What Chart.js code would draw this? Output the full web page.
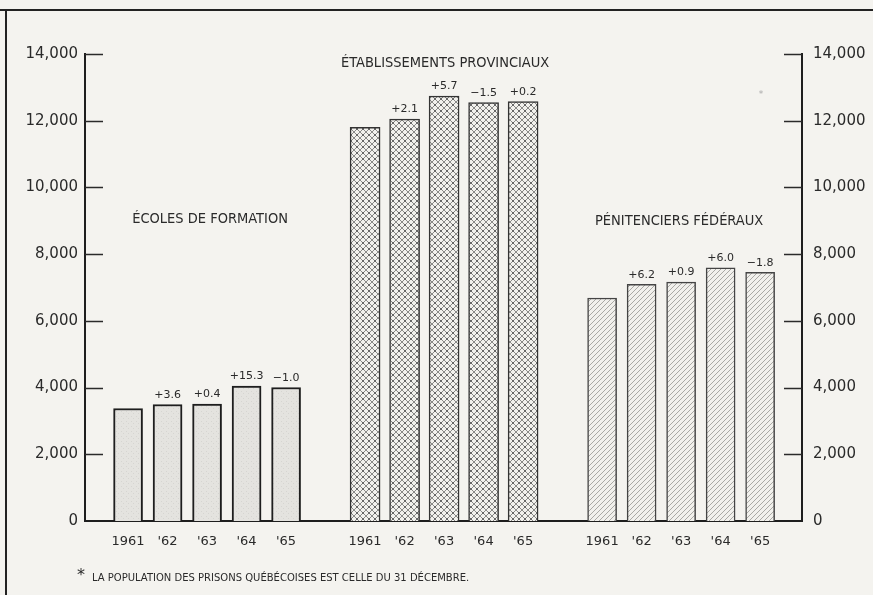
<!DOCTYPE html>
<html>
<head>
<meta charset="utf-8">
<script src="https://cdn.jsdelivr.net/npm/chart.js@4.4.1/dist/chart.umd.min.js"></script>
<style>
  html, body { margin: 0; padding: 0; background: #f4f3ef; }
  #wrap { width: 873px; height: 595px; position: relative; }
</style>
</head>
<body>
<div id="wrap"><canvas id="myChart" width="873" height="595"></canvas></div>
<script>
// data
var years = ['1961', "'62", "'63", "'64", "'65"];
var groups = ['ÉCOLES DE FORMATION', 'ÉTABLISSEMENTS PROVINCIAUX', 'PÉNITENCIERS FÉDÉRAUX'];
var ecoles = [3372, 3493, 3507, 4043, 4003];
var provinciaux = [11802, 12050, 12737, 12546, 12571];
var federaux = [6684, 7098, 7162, 7592, 7455];
var pctEcoles = ['', '+3.6', '+0.4', '+15.3', '−1.0'];
var pctProvinciaux = ['', '+2.1', '+5.7', '−1.5', '+0.2'];
var pctFederaux = ['', '+6.2', '+0.9', '+6.0', '−1.8'];
var yTicks = [0, 2000, 4000, 6000, 8000, 10000, 12000, 14000];
var footnote = 'LA POPULATION DES PRISONS QUÉBÉCOISES EST CELLE DU 31 DÉCEMBRE.';

var ink = '#2a2a2a';
var font = "'DejaVu Sans', sans-serif";

function makePattern(kind) {
    var c = document.createElement('canvas');
    var s = kind === 'cross' ? 6 : 5;
    c.width = s; c.height = s;
    var g = c.getContext('2d');
    if (kind === 'dots') {
        g.fillStyle = '#e4e3df';
        g.fillRect(0, 0, s, s);
        g.fillStyle = '#d6d5d1';
        g.fillRect(1, 1, 1, 1);
        g.fillRect(3, 3, 1, 1);
    } else if (kind === 'cross') {
        g.fillStyle = '#f2f1ed';
        g.fillRect(0, 0, s, s);
        g.strokeStyle = '#8a8a88';
        g.lineWidth = 1;
        g.beginPath();
        g.moveTo(0, 0); g.lineTo(s, s);
        g.moveTo(s, 0); g.lineTo(0, s);
        g.stroke();
        g.fillStyle = '#666';
        g.fillRect(2, 2, 2, 2);
    } else {
        g.fillStyle = '#f1f0ec';
        g.fillRect(0, 0, s, s);
        g.strokeStyle = '#a9a8a4';
        g.lineWidth = 1;
        g.beginPath();
        g.moveTo(0, s); g.lineTo(s, 0);
        g.moveTo(-1, 1); g.lineTo(1, -1);
        g.moveTo(s - 1, s + 1); g.lineTo(s + 1, s - 1);
        g.stroke();
    }
    var ctx2 = document.getElementById('myChart').getContext('2d');
    return ctx2.createPattern(c, 'repeat');
}

function toPoints(values, group) {
    return values.map(function (v, i) { return { x: group * 6 + i, y: v }; });
}

var xPositions = [];
var xLabels = {};
for (var gi = 0; gi < groups.length; gi++) {
    for (var yi = 0; yi < years.length; yi++) {
        xPositions.push(gi * 6 + yi);
        xLabels[gi * 6 + yi] = years[yi];
    }
}

var pctLists = [pctEcoles, pctProvinciaux, pctFederaux];

var decor = {
    id: 'decor',
    beforeDraw: function (chart) {
        var c = chart.ctx;
        c.save();
        c.fillStyle = '#f4f3ef';
        c.fillRect(0, 0, chart.width, chart.height);
        c.restore();
    },
    afterDraw: function (chart) {
        var c = chart.ctx;
        var area = chart.chartArea;
        var yl = chart.scales.y;
        c.save();
        // frame
        c.strokeStyle = '#222';
        c.lineWidth = 2;
        c.beginPath();
        c.moveTo(0, 10); c.lineTo(chart.width, 10);
        c.moveTo(6, 10); c.lineTo(6, chart.height);
        c.stroke();
        // inward tick marks
        c.lineWidth = 1.5;
        c.strokeStyle = ink;
        c.beginPath();
        yTicks.forEach(function (t) {
            if (t === 0) return;
            var py = Math.round(yl.getPixelForValue(t)) + 0.5;
            c.moveTo(area.left, py); c.lineTo(area.left + 18, py);
            c.moveTo(area.right - 18, py); c.lineTo(area.right, py);
        });
        c.stroke();
        // percentage changes
        c.fillStyle = ink;
        c.font = "11px " + font;
        c.textAlign = 'center';
        c.textBaseline = 'bottom';
        chart.data.datasets.forEach(function (ds, di) {
            var meta = chart.getDatasetMeta(di);
            meta.data.forEach(function (bar, i) {
                var txt = pctLists[di][i];
                if (txt) c.fillText(txt, bar.x, bar.y - 4);
            });
        });
        // group titles
        c.font = "14.5px 'DejaVu Sans Condensed', " + font;
        var xs = chart.scales.x;
        c.textBaseline = 'middle';
        c.fillText(groups[0], xs.getPixelForValue(2) + 3, 219);
        c.fillText(groups[1], xs.getPixelForValue(8) + 1, 63);
        c.fillText(groups[2], xs.getPixelForValue(14) - 2, 221);
        // faint asterisk
        c.fillStyle = '#aaa';
        c.font = "9px " + font;
        c.fillText('*', 761, 95);
        // footnote
        c.fillStyle = ink;
        c.textAlign = 'left';
        c.font = "16px " + font;
        c.fillText('*', 77, 576);
        c.font = "10px " + font;
        c.fillText(footnote, 92, 578);
        c.restore();
    }
};

var ctx = document.getElementById('myChart');
var myChart = new Chart(ctx, {
    type: 'bar',
    data: {
        datasets: [{
            label: groups[0],
            data: toPoints(ecoles, 0),
            backgroundColor: makePattern('dots'),
            borderColor: '#1e1e1e',
            borderWidth: 2,
            barThickness: 29
        }, {
            label: groups[1],
            data: toPoints(provinciaux, 1),
            backgroundColor: makePattern('cross'),
            borderColor: '#333',
            borderWidth: 1.5,
            barThickness: 30
        }, {
            label: groups[2],
            data: toPoints(federaux, 2),
            backgroundColor: makePattern('hatch'),
            borderColor: '#444',
            borderWidth: 1.5,
            barThickness: 29
        }]
    },
    options: {
        responsive: false,
        animation: false,
        grouped: false,
        layout: { padding: { top: 54, left: 0, right: 0, bottom: 0 } },
        plugins: {
            legend: { display: false },
            tooltip: { enabled: false }
        },
        scales: {
            x: {
                type: 'linear',
                offset: false,
                min: -1.09,
                max: 17.06,
                grid: { display: false, offset: false },
                border: { display: true, color: '#1e1e1e', width: 2 },
                afterFit: function (s) { s.height = 74; },
                afterBuildTicks: function (s) {
                    s.ticks = xPositions.map(function (v) { return { value: v }; });
                },
                ticks: {
                    autoSkip: false,
                    maxRotation: 0,
                    padding: 5,
                    color: ink,
                    font: { family: font, size: 13 },
                    callback: function (v) { return xLabels[v] || ''; }
                }
            },
            y: {
                position: 'left',
                min: 0,
                max: 14000,
                grid: { display: false, drawTicks: false },
                border: { display: true, color: '#1e1e1e', width: 2 },
                afterFit: function (s) { s.width = 85; },
                afterBuildTicks: function (s) {
                    s.ticks = yTicks.map(function (v) { return { value: v }; });
                },
                ticks: {
                    padding: 7,
                    color: ink,
                    font: { family: font, size: 15 },
                    callback: function (v) { return v.toLocaleString('en-US'); }
                }
            },
            y2: {
                position: 'right',
                min: 0,
                max: 14000,
                grid: { display: false, drawTicks: false },
                border: { display: true, color: '#1e1e1e', width: 2 },
                afterFit: function (s) { s.width = 71; },
                afterBuildTicks: function (s) {
                    s.ticks = yTicks.map(function (v) { return { value: v }; });
                },
                ticks: {
                    padding: 11,
                    color: ink,
                    font: { family: font, size: 15 },
                    callback: function (v) { return v.toLocaleString('en-US'); }
                }
            }
        }
    },
    plugins: [decor]
});
</script>
</body>
</html>
